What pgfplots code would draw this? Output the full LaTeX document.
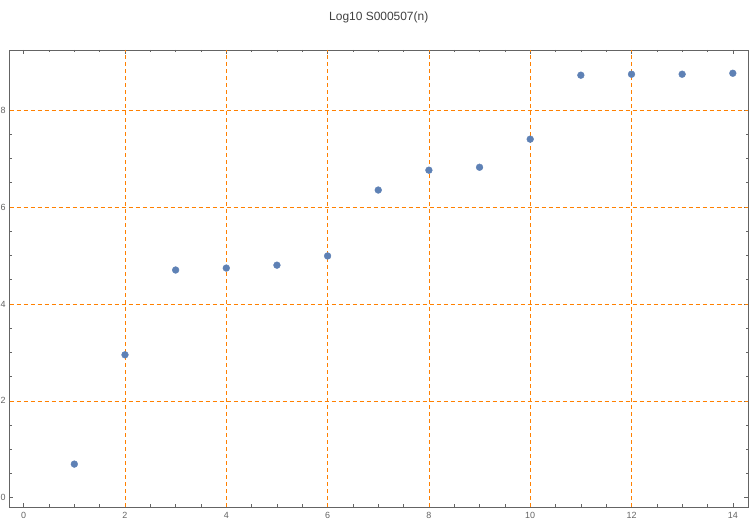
\documentclass[border=0pt]{standalone}
\usepackage{fontspec}
\setmainfont{Liberation Sans}
\usepackage{pgfplots}
\pgfplotsset{compat=1.18}
\definecolor{mblue}{RGB}{94,129,181}
\definecolor{morange}{RGB}{255,128,0}
\definecolor{axgray}{RGB}{100,100,100}
\begin{document}
\begin{tikzpicture}
\begin{axis}[
  scale only axis,
  width=738.5bp, height=457bp,
  xmin=-0.28, xmax=14.3,
  ymin=-0.19, ymax=9.24,
  xtick={0,2,...,14}, ytick={0,2,...,8},
  minor tick num=3,
  tick align=inside,
  major tick length=4bp, minor tick length=2.5bp,
  axis line style={axgray, line width=0.8pt},
  every tick/.style={axgray, line width=0.6pt},
  extra x ticks={2,4,...,12}, extra y ticks={2,4,6,8},
  extra x tick labels={}, extra y tick labels={},
  extra tick style={grid=major, major tick length=0pt},
  major grid style={morange, line width=0.7pt, dash pattern=on 4bp off 3bp},
  tick label style={font=\fontsize{9}{10}\selectfont, text=axgray, inner sep=0pt},
  xticklabel style={anchor=center, yshift=-8bp},
  yticklabel style={anchor=center, xshift=-6.5bp},
  title={Log10 S000507(n)},
  title style={font=\fontsize{12}{13}\selectfont, text=black!75, anchor=center, yshift=27bp, inner sep=0pt},
  /pgf/number format/assume math mode=true,
]
\addplot[only marks, mark=*, mark size=3.4bp, mark options={fill=mblue, draw=mblue}] coordinates {
(1,0.695) (2,2.95) (3,4.70) (4,4.74) (5,4.80) (6,4.99) (7,6.35)
(8,6.76) (9,6.82) (10,7.40) (11,8.72) (12,8.74) (13,8.74) (14,8.76)
};
\end{axis}
\path[use as bounding box] ([xshift=-9.5bp,yshift=-18bp]current axis.south west) rectangle ([xshift=2bp,yshift=50bp]current axis.north east);
\end{tikzpicture}
\end{document}
